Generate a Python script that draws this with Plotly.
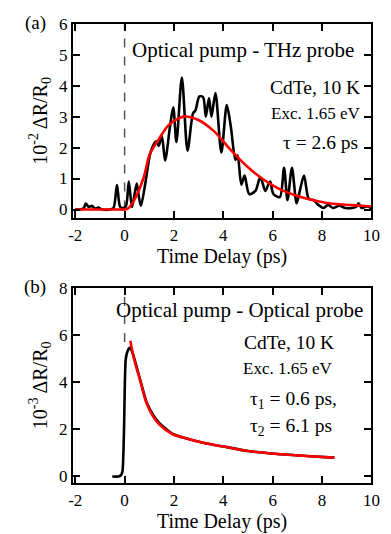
import plotly.graph_objects as go

# ---------------- data: panel (a) THz probe ----------------
a_t = [-2.0, -1.8, -1.65, -1.57, -1.45, -1.33, -1.2, -1.07, -0.9, -0.6, -0.45, -0.31, -0.18, -0.08,
       0.05, 0.17, 0.3, 0.49, 0.58, 0.66, 0.85, 1.05, 1.28, 1.38, 1.51, 1.64, 1.84, 1.97, 2.1, 2.32,
       2.55, 2.77, 2.87, 3.03, 3.18, 3.29, 3.42, 3.52, 3.68, 3.92, 4.14, 4.3, 4.49, 4.58, 4.73, 4.86,
       5.05, 5.3, 5.5, 5.7, 5.82, 5.9, 6.03, 6.29, 6.46, 6.6, 6.78, 6.97, 7.1, 7.27, 7.46, 7.66, 7.85,
       8.05, 8.25, 8.44, 8.7, 8.95, 9.22, 9.4, 9.48, 9.6, 9.8, 10.0]
a_v = [0.0, 0.0, 0.05, 0.19, 0.08, 0.12, 0.03, 0.06, 0.0, 0.0, 0.05, 0.79, 0.08, 0.05,
       0.1, 0.9, 0.08, 0.84, 0.4, 0.12, 0.9, 1.84, 2.2, 2.05, 2.37, 1.58, 2.68, 3.3, 2.18, 4.26,
       1.9, 3.1, 3.2, 3.65, 3.63, 3.0, 3.6, 3.0, 3.76, 1.84, 3.37, 2.7, 1.6, 1.75, 0.8, 1.1,
       0.5, 0.6, 1.05, 0.6, 0.8, 0.9, 0.5, 0.4, 1.35, 0.3, 1.35, 0.2, 0.6, 1.1, 0.35, 0.3, 0.15,
       0.05, 0.15, 0.05, 0.12, 0.05, 0.05, 0.1, 0.2, 0.05, 0.1, 0.05]
a_fit_t = [-2.0, -1.0, -0.3, 0.0, 0.1, 0.2, 0.36, 0.76, 1.02, 1.41, 1.8, 2.38, 2.97, 3.62, 4.27,
           4.92, 5.57, 6.22, 6.88, 7.53, 8.18, 8.83, 9.48, 10.0]
a_fit_v = [0.0, 0.0, 0.0, 0.0, 0.02, 0.08, 0.26, 1.0, 1.79, 2.3, 2.74, 3.0, 2.9, 2.53, 1.95,
           1.42, 1.0, 0.68, 0.47, 0.32, 0.21, 0.16, 0.13, 0.1]

# ---------------- data: panel (b) optical probe ----------------
b_t = [-0.5, -0.25, -0.16, -0.09, -0.03, 0.04, 0.1, 0.2, 0.3, 0.63, 0.89, 1.15, 1.41, 1.93, 2.58,
       3.23, 4.0, 5.0, 6.2, 7.5, 8.5]
b_v = [0.0, 0.0, 0.04, 0.2, 1.7, 4.9, 5.25, 5.45, 5.3, 4.1, 3.15, 2.62, 2.26, 1.82, 1.59, 1.42,
       1.27, 1.08, 0.95, 0.86, 0.8]
b_fit_t = [0.23, 0.4, 0.63, 0.89, 1.15, 1.41, 1.93, 2.58, 3.23, 4.0, 5.0, 6.2, 7.5, 8.5]
b_fit_v = [5.75, 4.9, 4.07, 3.1, 2.55, 2.2, 1.8, 1.59, 1.42, 1.27, 1.08, 0.95, 0.86, 0.8]

zero_x = [0, 0]
zero_a_y = [0, 6]
zero_b_y = [5.7, 8]

# tick positions / labels
x_ticks = [-2, 0, 2, 4, 6, 8, 10]
x_labels = ["-2", "0", "2", "4", "6", "8", "10"]
x_minor = [-2 + 0.5 * i for i in range(25)]
a_y_ticks = [0, 1, 2, 3, 4, 5, 6]
a_y_minor = [0.25 * i for i in range(25)]
b_y_ticks = [0, 2, 4, 6, 8]
b_y_minor = [0.5 * i for i in range(17)]

FONT = "Liberation Serif, Times New Roman, serif"
fig = go.Figure()

dash_style = dict(color="#555555", width=1.5, dash="dash")
fig.add_trace(go.Scatter(x=zero_x, y=zero_a_y, mode="lines", line=dash_style, xaxis="x", yaxis="y"))
fig.add_trace(go.Scatter(x=a_t, y=a_v, mode="lines",
                         line=dict(color="black", width=2.6, shape="spline", smoothing=0.8),
                         xaxis="x", yaxis="y"))
fig.add_trace(go.Scatter(x=a_fit_t, y=a_fit_v, mode="lines",
                         line=dict(color="#ff0000", width=2.6, shape="spline", smoothing=0.8),
                         xaxis="x", yaxis="y"))

fig.add_trace(go.Scatter(x=zero_x, y=zero_b_y, mode="lines", line=dash_style, xaxis="x2", yaxis="y2"))
fig.add_trace(go.Scatter(x=b_t, y=b_v, mode="lines",
                         line=dict(color="black", width=2.6, shape="spline", smoothing=0.6),
                         xaxis="x2", yaxis="y2"))
fig.add_trace(go.Scatter(x=b_fit_t, y=b_fit_v, mode="lines",
                         line=dict(color="#ff0000", width=2.6, shape="spline", smoothing=1.0),
                         xaxis="x2", yaxis="y2"))

W, H = 391, 534
xdom = [70.3 / W, 380 / W]
ya_dom = [1 - 214 / H, 1 - 15 / H]
yb_dom = [1 - 485 / H, 1 - 285 / H]
x_range = [-2.1, 10.0]
ya_range = [-0.28, 6.0]
yb_range = [-0.28, 8.0]

tickfont = dict(family=FONT, size=17, color="black")
titlefont = dict(family=FONT, size=20, color="black")

def major_axis(anchor, dom, rng, tv, tt, title, standoff):
    return dict(domain=dom, anchor=anchor, range=rng, tickmode="array", tickvals=tv, ticktext=tt,
                ticks="inside", ticklen=7, tickwidth=2, tickcolor="black",
                showline=True, linecolor="black", linewidth=2, mirror="allticks",
                showgrid=False, zeroline=False, tickfont=tickfont,
                title=dict(text=title, font=titlefont, standoff=standoff))

def minor_axis(anchor, overlay, dom, rng, tv, side):
    return dict(domain=dom, anchor=anchor, overlaying=overlay, side=side, range=rng,
                tickmode="array", tickvals=tv, showticklabels=False,
                ticks="inside", ticklen=4, tickwidth=1.5, tickcolor="black",
                showline=False, mirror="allticks", showgrid=False, zeroline=False)

fig.update_layout(
    width=W, height=H, margin=dict(l=0, r=0, t=0, b=0),
    paper_bgcolor="white", plot_bgcolor="white", showlegend=False,
    font=dict(family=FONT, color="black"),
    xaxis=major_axis("y", xdom, x_range, x_ticks, x_labels, "Time Delay (ps)", 1),
    yaxis=major_axis("x", ya_dom, ya_range, a_y_ticks, [str(v) for v in a_y_ticks],
                     "10<sup>-2</sup> ΔR/R<sub>0</sub>", 6),
    xaxis2=major_axis("y2", xdom, x_range, x_ticks, x_labels, "Time Delay (ps)", 1),
    yaxis2=major_axis("x2", yb_dom, yb_range, b_y_ticks, [str(v) for v in b_y_ticks],
                      "10<sup>-3</sup> ΔR/R<sub>0</sub>", 6),
    xaxis3=minor_axis("y", "x", xdom, x_range, x_minor, "bottom"),
    yaxis3=minor_axis("x", "y", ya_dom, ya_range, a_y_minor, "left"),
    xaxis4=minor_axis("y2", "x2", xdom, x_range, x_minor, "bottom"),
    yaxis4=minor_axis("x2", "y2", yb_dom, yb_range, b_y_minor, "left"),
)

def ann(text, x, y, size, xanchor="right"):
    fig.add_annotation(text=text, x=x / W, y=1 - y / H, xref="paper", yref="paper",
                       xanchor=xanchor, yanchor="middle", showarrow=False,
                       font=dict(family=FONT, size=size, color="black"))

ann("(a)", 45, 14, 19)
ann("Optical pump - THz probe", 364, 42, 21)
ann("CdTe, 10 K", 370, 80, 19.5)
ann("Exc. 1.65 eV", 370, 107, 17)
ann("τ = 2.6 ps", 368, 137, 19.5)

ann("(b)", 45, 284, 19)
ann("Optical pump - Optical probe", 373, 308, 21)
ann("CdTe, 10 K", 343, 341, 19.5)
ann("Exc. 1.65 eV", 341, 368, 17)
ann("τ<sub>1</sub> = 0.6 ps,", 252, 400, 19.5, xanchor="left")
ann("τ<sub>2</sub> = 6.1 ps", 252, 428, 19.5, xanchor="left")

fig.write_html("out.html")
